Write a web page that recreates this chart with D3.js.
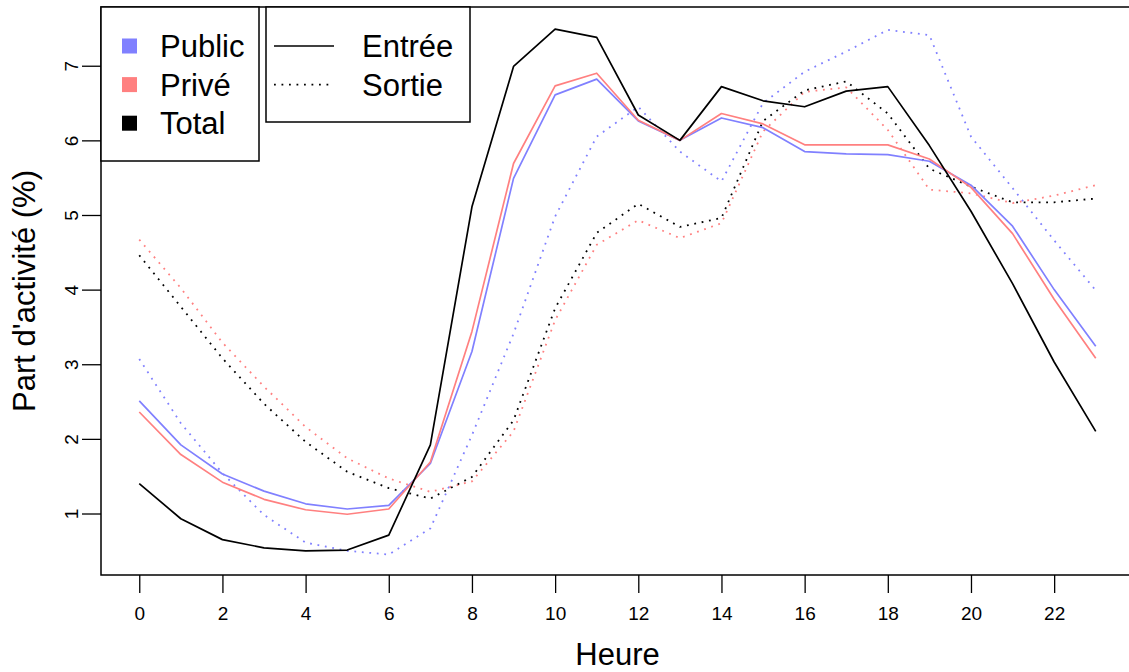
<!DOCTYPE html>
<html>
<head>
  <meta charset="utf-8">
  <script src="https://d3js.org/d3.v7.min.js"></script>
  <style>
  body { margin: 0; background: #fff; }
  text { font-family: "Liberation Sans", Arial, sans-serif; fill: #000; }
  </style>
</head>
<body>
<script>
// hours of the day
var hours = d3.range(0, 24);

// entree (solid lines)
var publicEntree = [2.51, 1.92, 1.53, 1.30, 1.13, 1.06, 1.11, 1.67, 3.17, 5.49, 6.61, 6.82,
                    6.26, 6.00, 6.30, 6.17, 5.85, 5.82, 5.81, 5.72, 5.40, 4.85, 4.00, 3.24];
var priveEntree  = [2.36, 1.79, 1.42, 1.19, 1.05, 0.99, 1.06, 1.69, 3.44, 5.69, 6.73, 6.90,
                    6.27, 6.00, 6.36, 6.22, 5.94, 5.94, 5.94, 5.75, 5.37, 4.75, 3.87, 3.08];
var totalEntree  = [1.40, 0.93, 0.65, 0.54, 0.50, 0.51, 0.71, 1.92, 5.11, 6.99, 7.49, 7.38,
                    6.34, 6.00, 6.72, 6.53, 6.45, 6.66, 6.72, 5.93, 5.05, 4.08, 3.03, 2.10];

// sortie (dotted lines)
var publicSortie = [3.07, 2.21, 1.54, 0.98, 0.61, 0.50, 0.45, 0.80, 2.05, 3.41, 4.98, 6.05,
                    6.45, 5.85, 5.45, 6.50, 6.92, 7.19, 7.48, 7.41, 6.05, 5.36, 4.66, 3.99];
var priveSortie  = [4.67, 4.02, 3.29, 2.70, 2.16, 1.74, 1.47, 1.29, 1.43, 2.10, 3.59, 4.60,
                    4.93, 4.69, 4.89, 6.12, 6.65, 6.71, 6.14, 5.34, 5.29, 5.16, 5.26, 5.40];
var totalSortie  = [4.46, 3.77, 3.08, 2.47, 1.96, 1.56, 1.34, 1.20, 1.49, 2.25, 3.75, 4.76,
                    5.15, 4.84, 4.96, 6.26, 6.67, 6.79, 6.36, 5.62, 5.38, 5.17, 5.17, 5.22];

var xTicks = d3.range(0, 24, 2);
var yTicks = [1, 2, 3, 4, 5, 6, 7];

var groupLabels = ["Public", "Privé", "Total"];
var groupColors = ["#8080ff", "#ff8080", "#000000"];
var typeLabels = ["Entrée", "Sortie"];

function drawChart() {
  var W = 1129, H = 672;
  // plot region (R extends the x range past the window edge)
  var pLeft = 101, pRight = 1134, pTop = 7, pBottom = 575;

  var svg = d3.select("body").append("svg")
    .attr("width", W).attr("height", H);

  var x = d3.scaleLinear().domain([-0.92, 23.92]).range([pLeft, pRight]);
  var y = d3.scaleLinear().domain([0.176, 7.787]).range([pBottom, pTop]);

  svg.append("clipPath").attr("id", "plotclip")
    .append("rect").attr("x", pLeft).attr("y", pTop)
    .attr("width", pRight - pLeft).attr("height", pBottom - pTop);

  var line = d3.line()
    .x(function(d, i) { return x(hours[i]); })
    .y(function(d) { return y(d); });

  var plot = svg.append("g").attr("clip-path", "url(#plotclip)");

  var dotted = "1.8,5.7";
  var series = [
    [publicSortie, 0, dotted], [priveSortie, 1, dotted], [totalSortie, 2, dotted],
    [publicEntree, 0, null], [priveEntree, 1, null], [totalEntree, 2, null]
  ];
  series.forEach(function(s) {
    plot.append("path")
      .attr("d", line(s[0]))
      .attr("fill", "none")
      .attr("stroke", groupColors[s[1]])
      .attr("stroke-width", s[2] ? 1.8 : 1.7)
      .attr("stroke-dasharray", s[2])
      .attr("stroke-linejoin", "round");
  });

  // frame
  svg.append("rect")
    .attr("x", pLeft).attr("y", pTop)
    .attr("width", pRight - pLeft).attr("height", pBottom - pTop)
    .attr("fill", "none").attr("stroke", "#000").attr("stroke-width", 1.5);

  // x axis
  var xAxis = svg.append("g").attr("transform", "translate(0," + pBottom + ")")
    .call(d3.axisBottom(x).tickValues(xTicks).tickSize(18).tickPadding(14)
      .tickFormat(d3.format("d")));
  xAxis.attr("font-size", null).attr("font-family", null);
  xAxis.select(".domain").remove();
  xAxis.selectAll("line").attr("stroke-width", 1.3);
  xAxis.selectAll("text").style("font-size", "19px");

  // y axis, labels parallel to the axis like R
  var yAxis = svg.append("g").attr("transform", "translate(" + pLeft + ",0)")
    .call(d3.axisLeft(y).tickValues(yTicks).tickSize(19).tickFormat(d3.format("d")));
  yAxis.attr("font-size", null).attr("font-family", null);
  yAxis.select(".domain").remove();
  yAxis.selectAll("line").attr("stroke-width", 1.3);
  yAxis.selectAll("text")
    .attr("x", null).attr("dy", null)
    .attr("text-anchor", "middle")
    .attr("transform", "translate(-23,0) rotate(-90)")
    .style("font-size", "19px");

  // axis titles
  svg.append("text")
    .attr("x", (pLeft + pRight) / 2).attr("y", 665)
    .attr("text-anchor", "middle")
    .style("font-size", "31px")
    .text("Heure");

  svg.append("text")
    .attr("transform", "translate(35," + ((pTop + pBottom) / 2) + ") rotate(-90)")
    .attr("text-anchor", "middle")
    .style("font-size", "31px")
    .text("Part d'activité (%)");

  // legend 1: groups
  var lg1 = svg.append("g");
  lg1.append("rect")
    .attr("x", 101).attr("y", 7).attr("width", 158).attr("height", 154)
    .attr("fill", "#fff").attr("stroke", "#000").attr("stroke-width", 1.5);
  groupLabels.forEach(function(lab, i) {
    var cy = 46 + i * 38.6;
    lg1.append("rect")
      .attr("x", 122).attr("y", cy - 7.5).attr("width", 15).attr("height", 15)
      .attr("fill", groupColors[i]);
    lg1.append("text")
      .attr("x", 160).attr("y", cy + 11)
      .style("font-size", "31px")
      .text(lab);
  });

  // legend 2: line types
  var lg2 = svg.append("g");
  lg2.append("rect")
    .attr("x", 266).attr("y", 7).attr("width", 204).attr("height", 115)
    .attr("fill", "#fff").attr("stroke", "#000").attr("stroke-width", 1.5);
  typeLabels.forEach(function(lab, i) {
    var cy = 46 + i * 38.6;
    lg2.append("line")
      .attr("x1", 274).attr("x2", 334).attr("y1", cy).attr("y2", cy)
      .attr("stroke", "#000").attr("stroke-width", 1.7)
      .attr("stroke-dasharray", i === 1 ? dotted : null);
    lg2.append("text")
      .attr("x", 362).attr("y", cy + 11)
      .style("font-size", "31px")
      .text(lab);
  });
}

drawChart();
</script>
</body>
</html>
